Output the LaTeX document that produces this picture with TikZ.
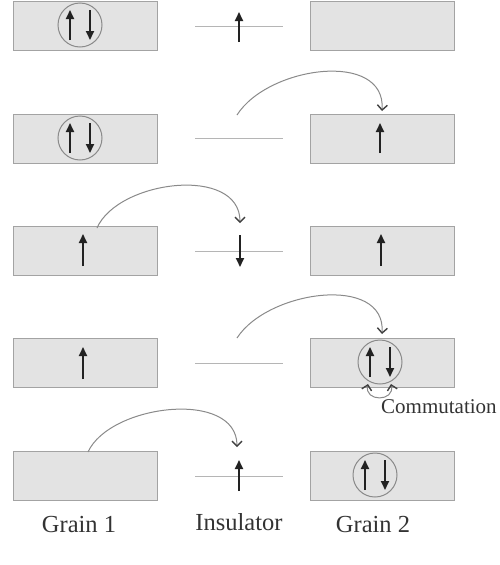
\documentclass[tikz,border=0pt]{standalone}
\usepackage{fontspec}
\setmainfont{Liberation Serif}
\usetikzlibrary{arrows.meta,calc}
\definecolor{boxfill}{HTML}{E3E3E3}
\definecolor{boxline}{HTML}{A3A3A3}
\definecolor{curveline}{HTML}{8A8A8A}
\definecolor{insline}{HTML}{B5B5B5}
\definecolor{spincol}{HTML}{222222}
\definecolor{txtcol}{HTML}{333333}
\tikzset{
  grain/.style={draw=boxline, fill=boxfill, line width=1pt, minimum width=144pt, minimum height=49pt, inner sep=0pt},
  insul/.style={draw=insline, line width=1pt},
  spin/.style={draw=spincol, line width=1.9pt, -{Triangle[length=9pt,width=8pt]}},
  pair/.style={circle, draw=curveline, line width=1pt, minimum size=44pt, inner sep=0pt},
  barb/.tip={Straight Barb[length=5pt,width=10pt,line width=1.4pt,color=black!75]},
  hop/.style={draw=curveline, line width=1pt, -barb},
  comm/.style={draw=curveline, line width=1pt, barb-barb},
  lbl/.style={text=txtcol, font=\fontsize{24.5}{26}\selectfont, inner sep=0pt, anchor=base},
}
\newcommand{\spinpair}[1]{%
  \draw[spin] ($(#1)+(-10,15)$) -- ($(#1)+(-10,-15)$);
  \draw[spin] ($(#1)+(10,-15)$) -- ($(#1)+(10,15)$);
}
\begin{document}
\begin{tikzpicture}[x=1pt,y=-1pt]
\useasboundingbox (0,0) rectangle (499,565);
% grains
\foreach \r/\y in {1/26,2/138.5,3/251,4/363,5/476}{
  \node[grain] (ga\r) at (85,\y) {};
  \node[grain] (gb\r) at (382.5,\y) {};
  \coordinate (ia\r) at (195,\y);
  \coordinate (ib\r) at (283,\y);
  \draw[insul] (ia\r) -- (ib\r);
}
% row 1
\node[pair] (p1) at (80,25) {};
\spinpair{p1}
\draw[spin] (239,42) -- (239,12);
% row 2
\node[pair] (p2) at (80,138) {};
\spinpair{p2}
\draw[spin] (380,153) -- (380,123);
\coordinate (s2) at (237,115);
\coordinate (e2) at (382,111);
\draw[hop] (s2) .. controls (268,66) and (386,50) .. (e2);
% row 3
\draw[spin] (83,266) -- (83,234);
\draw[spin] (240,235) -- (240,267);
\draw[spin] (381,266) -- (381,234);
\coordinate (s3) at (97,228);
\coordinate (e3) at (240,223);
\draw[hop] (s3) .. controls (118,180) and (240,165) .. (e3);
% row 4
\draw[spin] (83,379) -- (83,347);
\node[pair] (p4) at (380,362) {};
\spinpair{p4}
\coordinate (s4) at (237,338);
\coordinate (e4) at (382,334);
\draw[hop] (s4) .. controls (268,290) and (386,274) .. (e4);
\coordinate (c1) at (368,384);
\coordinate (c2) at (391,384);
\draw[comm] (c1) .. controls (364,402) and (395,402) .. (c2);
\node[text=txtcol, font=\fontsize{21}{22}\selectfont, inner sep=0pt, anchor=base west] (commlbl) at (381,413) {Commutation};
% row 5
\draw[spin] (239,491) -- (239,460);
\node[pair] (p5) at (375,475) {};
\spinpair{p5}
\coordinate (s5) at (88,452);
\coordinate (e5) at (237,447);
\draw[hop] (s5) .. controls (110,404) and (237,389) .. (e5);
% labels
\node[lbl] (l1) at (79,532) {Grain 1};
\node[lbl] (l2) at (239,530) {Insulator};
\node[lbl] (l3) at (373,532) {Grain 2};
\end{tikzpicture}
\end{document}
